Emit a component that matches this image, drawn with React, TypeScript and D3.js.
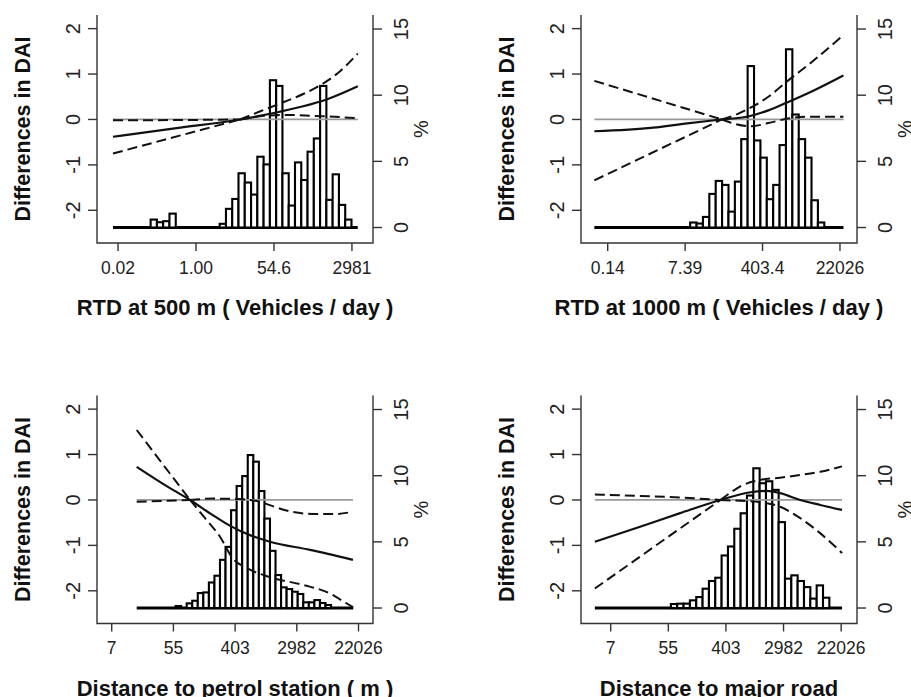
import * as d3 from 'd3';
import React from 'react';

type Pt = [number, number];

// x values are natural logs of the exposure; y is the difference in DAI

// RTD at 500 m
const rtd500Fit: Pt[] = [[-4.26, -0.38], [-1, -0.19], [2.26, 0], [4.3, 0.17], [5.5, 0.29], [6.7, 0.44], [8.3, 0.73]];
const rtd500Upper: Pt[] = [[-4.26, -0.02], [0, -0.01], [2.26, 0], [3.3, 0.18], [4.3, 0.35], [5.5, 0.56], [6.4, 0.76], [7.3, 1.03], [8.3, 1.45]];
const rtd500Lower: Pt[] = [[-4.26, -0.75], [2.26, 0], [3.5, 0.08], [4.5, 0.1], [6.5, 0.07], [8.3, 0.03]];
const rtd500Hist = [0, 0, 0, 0, 0, 0, 0.6, 0.4, 0.48, 1.05, 0, 0, 0, 0, 0, 0, 0, 0.28, 1.41, 2.16, 4.1, 3.4, 2.49, 5.35, 4.77, 11.13, 10.7, 4.1, 1.66, 4.92, 3.59, 5.73, 6.73, 10.7, 2.09, 4.02, 1.71, 0.6, 0];
const rtd500Ticks = [-4, 0, 4, 8];
const rtd500TickLabels = ['0.02', '1.00', '54.6', '2981'];

// RTD at 1000 m
const rtd1000Fit: Pt[] = [[-2.69, -0.26], [0.35, -0.18], [2, -0.09], [3.9, 0], [5.2, 0.06], [6.3, 0.2], [7.3, 0.38], [8.7, 0.65], [10.18, 0.97]];
const rtd1000Upper: Pt[] = [[-2.69, 0.85], [3.9, 0], [4.6, 0.1], [5.2, 0.22], [6.3, 0.5], [7.3, 0.85], [8.5, 1.25], [10.18, 1.86]];
const rtd1000Lower: Pt[] = [[-2.69, -1.34], [3.9, 0], [4.6, -0.1], [5.4, -0.15], [6.3, -0.08], [7.3, 0.02], [8.5, 0.06], [10.18, 0.06]];
const rtd1000Hist = [0, 0, 0, 0, 0, 0, 0, 0, 0, 0, 0, 0, 0, 0, 0, 0.38, 0.3, 0.8, 2.54, 3.52, 3.22, 1.2, 3.47, 6.68, 12.2, 6.58, 5.28, 2.14, 3.22, 6.23, 13.47, 8.54, 6.68, 5.28, 2.06, 0.38, 0, 0, 0];
const rtd1000Ticks = [-2, 2, 6, 10];
const rtd1000TickLabels = ['0.14', '7.39', '403.4', '22026'];

// Distance to petrol station
const petrolFit: Pt[] = [[2.81, 0.73], [3.89, 0.26], [4.54, 0], [5.2, -0.3], [5.84, -0.57], [6.5, -0.78], [7.13, -0.92], [8.43, -1.1], [9.82, -1.32]];
const petrolUpper: Pt[] = [[2.81, 1.54], [4.54, 0], [5.3, 0.03], [6.1, 0.02], [6.8, -0.04], [7.15, -0.12], [7.6, -0.22], [8.6, -0.31], [9.2, -0.31], [9.82, -0.26]];
const petrolLower: Pt[] = [[2.81, -0.04], [3.8, -0.02], [4.54, 0], [5.0, -0.38], [5.5, -0.8], [5.94, -1.3], [6.38, -1.5], [7.13, -1.7], [8.2, -1.87], [9.08, -2.06], [9.62, -2.28], [9.82, -2.36]];
const petrolHist = [0, 0, 0, 0, 0, 0, 0, 0.15, 0, 0.35, 0.55, 1.13, 1.18, 1.93, 2.44, 3.64, 4.62, 7.39, 9.22, 9.97, 11.56, 11.06, 8.84, 6.76, 4.32, 2.49, 1.56, 1.43, 1.23, 1.06, 0.43, 0.43, 0.6, 0.38, 0.23, 0, 0, 0, 0];

// Distance to major road
const roadFit: Pt[] = [[1.45, -0.92], [3.02, -0.59], [4.41, -0.29], [5.81, 0], [6.85, 0.17], [7.42, 0.2], [7.88, 0.15], [8.58, 0.0], [9.27, -0.11], [10.03, -0.22]];
const roadUpper: Pt[] = [[1.45, 0.12], [3, 0.09], [4.5, 0.05], [5.81, 0], [6.2, 0.18], [6.5, 0.3], [7.19, 0.44], [7.88, 0.49], [8.58, 0.55], [9.27, 0.62], [10.03, 0.74]];
const roadLower: Pt[] = [[1.45, -1.95], [5.81, 0], [6.5, -0.02], [7.19, -0.05], [7.88, -0.15], [8.58, -0.4], [9.27, -0.73], [10.03, -1.17]];
const roadHist = [0, 0, 0, 0, 0, 0, 0, 0, 0, 0, 0, 0, 0.3, 0.33, 0.33, 0.58, 0.83, 1.46, 2.04, 2.29, 3.97, 4.65, 5.99, 7.16, 8.5, 10.56, 9.43, 9.58, 8.93, 6.49, 2.22, 2.47, 2.04, 1.58, 0.71, 1.71, 0.78, 0, 0];

const distTicks = [2, 4, 6, 8, 10];
const distTickLabels = ['7', '55', '403', '2982', '22026'];

const daiTicks = [-2, -1, 0, 1, 2];
const pctTicks = [0, 5, 10, 15];

const panels = [
  { title: 'RTD at 500 m ( Vehicles / day )', fit: rtd500Fit, upper: rtd500Upper, lower: rtd500Lower, ref: 2.26,
    hist: rtd500Hist, histStart: -4.26, histStep: 0.322, ticks: rtd500Ticks, tickLabels: rtd500TickLabels,
    xDomain: [-5.08, 9.08], dx: 0, dy: 0 },
  { title: 'RTD at 1000 m ( Vehicles / day )', fit: rtd1000Fit, upper: rtd1000Upper, lower: rtd1000Lower, ref: 3.9,
    hist: rtd1000Hist, histStart: -2.69, histStep: 0.33, ticks: rtd1000Ticks, tickLabels: rtd1000TickLabels,
    xDomain: [-3.38, 10.88], dx: 484, dy: 0 },
  { title: 'Distance to petrol station ( m )', fit: petrolFit, upper: petrolUpper, lower: petrolLower, ref: 4.54,
    hist: petrolHist, histStart: 2.81, histStep: 0.18, ticks: distTicks, tickLabels: distTickLabels,
    xDomain: [1.523, 10.47], dx: 0, dy: 380.5 },
  { title: 'Distance to major road', fit: roadFit, upper: roadUpper, lower: roadLower, ref: 5.81,
    hist: roadHist, histStart: 1.45, histStep: 0.22, ticks: distTicks, tickLabels: distTickLabels,
    xDomain: [0.969, 10.55], dx: 484, dy: 380.5 },
];

const FONT = "'Liberation Sans', Arial, Helvetica, sans-serif";
const L = 97, R = 373, T = 15, B = 243;

function Panel({ cfg }: { cfg: any }) {
  const x = d3.scaleLinear().domain(cfg.xDomain).range([L, R]);
  const y = d3.scaleLinear().domain([-2.72, 2.3]).range([B, T]);
  const pct = d3.scaleLinear().domain([-1.17, 16.06]).range([B, T]);
  const line = d3.line<Pt>().x(d => x(d[0])).y(d => y(d[1])).curve(d3.curveMonotoneX);

  // confidence bands have a kink at the reference value, so draw each side separately
  const halves = (pts: Pt[]) => [pts.filter(d => d[0] <= cfg.ref + 1e-9), pts.filter(d => d[0] >= cfg.ref - 1e-9)];

  const x0 = cfg.fit[0][0];
  const x1 = cfg.fit[cfg.fit.length - 1][0];
  const histEnd = cfg.histStart + cfg.hist.length * cfg.histStep;

  return (
    <g transform={`translate(${cfg.dx},${cfg.dy})`}>
      {/* histogram */}
      <line x1={x(cfg.histStart)} x2={x(histEnd)} y1={pct(0)} y2={pct(0)} stroke="#000" strokeWidth={3} />
      {cfg.hist.map((v: number, i: number) => v > 0 ? (
        <rect key={i}
          x={x(cfg.histStart + i * cfg.histStep)}
          width={x(cfg.histStart + (i + 1) * cfg.histStep) - x(cfg.histStart + i * cfg.histStep)}
          y={pct(v)} height={pct(0) - pct(v)}
          fill="#fff" stroke="#000" strokeWidth={2.1} />
      ) : null)}

      {/* zero reference */}
      <line x1={x(x0)} x2={x(x1)} y1={y(0)} y2={y(0)} stroke="#999" strokeWidth={1.7} />

      {/* fit and confidence limits */}
      {[...halves(cfg.upper), ...halves(cfg.lower)].map((pts, i) => (
        <path key={i} d={line(pts) || ''} fill="none" stroke="#111" strokeWidth={2} strokeDasharray="10,5" />
      ))}
      <path d={line(cfg.fit) || ''} fill="none" stroke="#111" strokeWidth={2.2} />

      {/* box (open top) */}
      <path d={`M${L},${T}V${B}H${R}V${T}`} fill="none" stroke="#333" strokeWidth={1.4} />

      {/* left axis */}
      {daiTicks.map(t => (
        <g key={'l' + t}>
          <line x1={L - 9} x2={L} y1={y(t)} y2={y(t)} stroke="#333" strokeWidth={1.4} />
          <text transform={`translate(80,${y(t)}) rotate(-90)`} textAnchor="middle" fontSize={20} fontFamily={FONT} fill="#222">{t}</text>
        </g>
      ))}
      <text transform={`translate(30,${(T + B) / 2}) rotate(-90)`} textAnchor="middle" fontSize={21.5} fontWeight="bold" fontFamily={FONT} fill="#111">Differences in DAI</text>

      {/* right axis */}
      {pctTicks.map(t => (
        <g key={'r' + t}>
          <line x1={R} x2={R + 9} y1={pct(t)} y2={pct(t)} stroke="#333" strokeWidth={1.4} />
          <text transform={`translate(407.5,${pct(t)}) rotate(-90)`} textAnchor="middle" fontSize={20} fontFamily={FONT} fill="#222">{t}</text>
        </g>
      ))}
      <text transform={`translate(428,${(T + B) / 2}) rotate(-90)`} textAnchor="middle" fontSize={20} fontFamily={FONT} fill="#222">%</text>

      {/* bottom axis */}
      {cfg.ticks.map((t: number, i: number) => (
        <g key={'b' + t}>
          <line x1={x(t)} x2={x(t)} y1={B} y2={B + 8} stroke="#333" strokeWidth={1.4} />
          <text x={x(t)} y={273.5} textAnchor="middle" fontSize={17.5} fontFamily={FONT} fill="#222">{cfg.tickLabels[i]}</text>
        </g>
      ))}
      <text x={(L + R) / 2} y={315} textAnchor="middle" fontSize={22} fontWeight="bold" fontFamily={FONT} fill="#111">{cfg.title}</text>
    </g>
  );
}

export default function App() {
  return (
    <svg width={911} height={697} style={{ position: 'absolute', left: 0, top: 0, background: '#fff' }}>
      <rect width={911} height={697} fill="#fff" />
      {panels.map((p, i) => <Panel key={i} cfg={p} />)}
    </svg>
  );
}
